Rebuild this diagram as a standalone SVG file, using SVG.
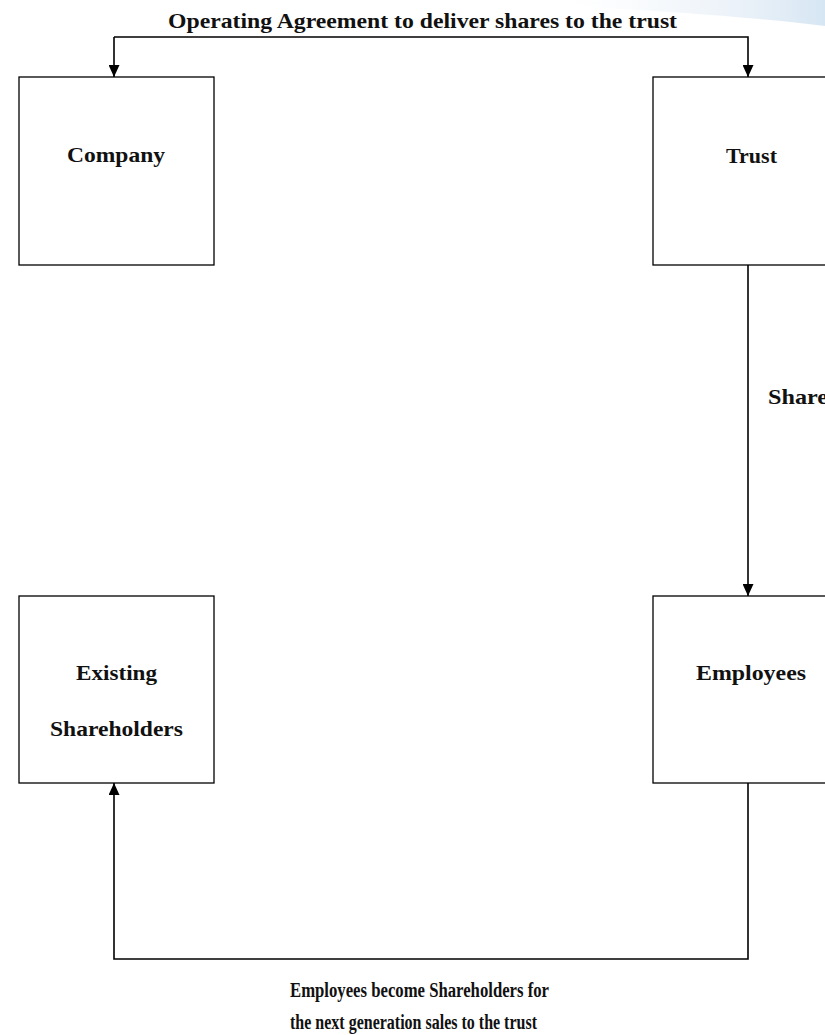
<svg xmlns="http://www.w3.org/2000/svg" width="825" height="1035" viewBox="0 0 825 1035">
  <defs>
    <linearGradient id="swoosh" x1="0" y1="0" x2="1" y2="0">
      <stop offset="0" stop-color="#eef4f9" stop-opacity="0"/>
      <stop offset="0.6" stop-color="#e6eef7" stop-opacity="0.7"/>
      <stop offset="1" stop-color="#d6e6f3"/>
    </linearGradient>
    <marker id="arrow" viewBox="0 0 12 11" refX="12" refY="5.5" markerWidth="12" markerHeight="11" markerUnits="userSpaceOnUse" orient="auto">
      <path d="M0,0 L12,5.5 L0,11 Z" fill="#000"/>
    </marker>
  </defs>
  <style>
    .box { fill: #fff; stroke: #000; stroke-width: 1.3; }
    .edge { fill: none; stroke: #000; stroke-width: 1.6; }
    .lbl { font-family: "Liberation Serif", "Times New Roman", serif; font-weight: bold; font-size: 21px; fill: #111; }
    .note { font-family: "Liberation Serif", "Times New Roman", serif; font-weight: bold; font-size: 20px; fill: #111; }
  </style>

  <rect width="825" height="1035" fill="#fff"/>
  <!-- faint decorative band in the upper right corner -->
  <path d="M570,0 L825,0 L825,26 C760,18 680,12 570,6 Z" fill="url(#swoosh)"/>

  <g id="connectors">
    <path class="edge" d="M114,37 L748,37 L748,77" marker-end="url(#arrow)"/>
    <path class="edge" d="M114,37 L114,77" marker-end="url(#arrow)"/>
    <path class="edge" d="M748,265 L748,596" marker-end="url(#arrow)"/>
    <path class="edge" d="M748,783 L748,959 L114,959 L114,783" marker-end="url(#arrow)"/>
    <text class="lbl" x="168" y="28" textLength="509" lengthAdjust="spacingAndGlyphs">Operating Agreement to deliver shares to the trust</text>
    <text class="lbl" x="768" y="404" textLength="60" lengthAdjust="spacingAndGlyphs">Share</text>
    <text class="note" x="290" y="997" textLength="259" lengthAdjust="spacingAndGlyphs">Employees become Shareholders for</text>
    <text class="note" x="290" y="1029" textLength="247" lengthAdjust="spacingAndGlyphs">the next generation sales to the trust</text>
  </g>

  <g id="company">
    <rect class="box" x="19" y="77" width="195" height="188"/>
    <text class="lbl" x="67" y="162" textLength="98" lengthAdjust="spacingAndGlyphs">Company</text>
  </g>

  <g id="trust">
    <rect class="box" x="653" y="77" width="200" height="188"/>
    <text class="lbl" x="726" y="163" textLength="51" lengthAdjust="spacingAndGlyphs">Trust</text>
  </g>

  <g id="existing-shareholders">
    <rect class="box" x="19" y="596" width="195" height="187"/>
    <text class="lbl" x="76" y="680" textLength="81" lengthAdjust="spacingAndGlyphs">Existing</text>
    <text class="lbl" x="50" y="736" textLength="133" lengthAdjust="spacingAndGlyphs">Shareholders</text>
  </g>

  <g id="employees">
    <rect class="box" x="653" y="596" width="200" height="187"/>
    <text class="lbl" x="696" y="680" textLength="110" lengthAdjust="spacingAndGlyphs">Employees</text>
  </g>
</svg>
